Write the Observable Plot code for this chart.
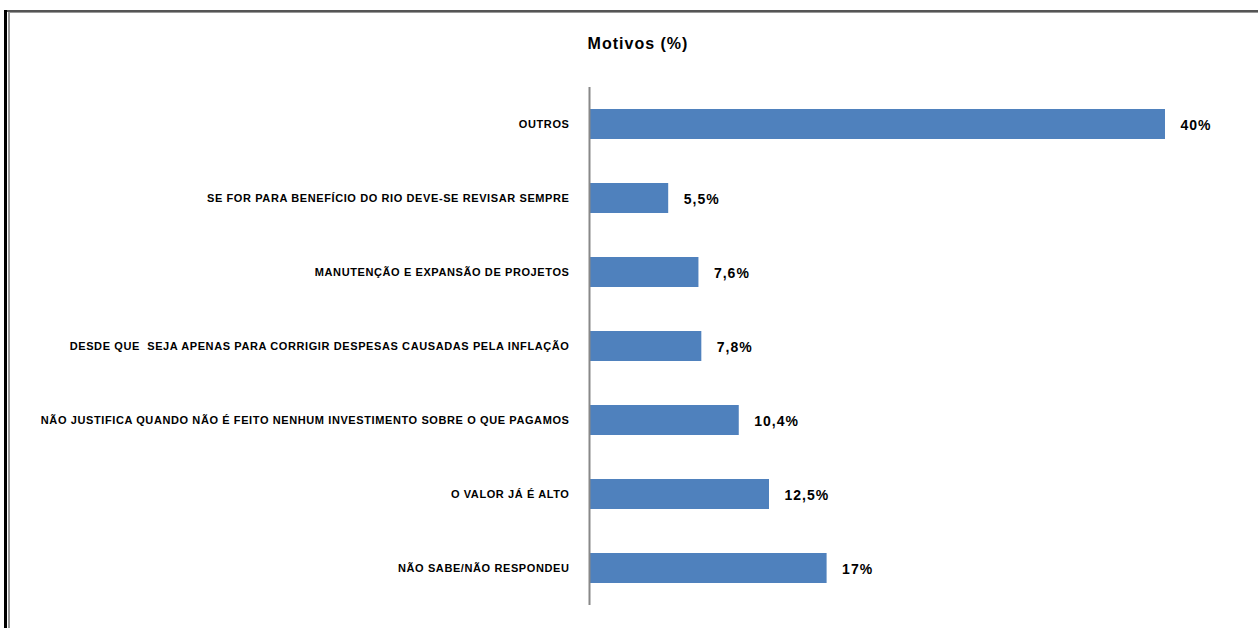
<!DOCTYPE html>
<html>
<head>
<meta charset="utf-8">
<script src="https://cdn.jsdelivr.net/npm/d3@7"></script>
<script src="https://cdn.jsdelivr.net/npm/@observablehq/plot@0.6"></script>
<style>
  html, body { margin: 0; padding: 0; background: #fff; }
  #wrap { position: relative; width: 1258px; height: 628px; overflow: hidden; font-family: "Liberation Sans", Arial, sans-serif; }
  #title { position: absolute; left: 0; width: 1276px; top: 35px; text-align: center; font-weight: bold; font-size: 16px; letter-spacing: 1px; color: #000; }
  .ln { position: absolute; }
  .ytick text { letter-spacing: 0.6px; }
  .vlab text { letter-spacing: 1px; }
</style>
</head>
<body>
<div id="wrap">
  <div class="ln" style="left:4px;top:10px;width:1254px;height:2px;background:#555;"></div>
  <div class="ln" style="left:8px;top:12px;width:1250px;height:1px;background:#999;"></div>
  <div class="ln" style="left:4px;top:10px;width:3px;height:618px;background:#000;"></div>
  <div class="ln" style="left:8px;top:12px;width:2px;height:616px;background:#999;"></div>
  <div id="title">Motivos (%)</div>
  <div id="chart"></div>
</div>
<script>
const categories = [
  "OUTROS",
  "SE FOR PARA BENEFÍCIO DO RIO DEVE-SE REVISAR SEMPRE",
  "MANUTENÇÃO E EXPANSÃO DE PROJETOS",
  "DESDE QUE  SEJA APENAS PARA CORRIGIR DESPESAS CAUSADAS PELA INFLAÇÃO",
  "NÃO JUSTIFICA QUANDO NÃO É FEITO NENHUM INVESTIMENTO SOBRE O QUE PAGAMOS",
  "O VALOR JÁ É ALTO",
  "NÃO SABE/NÃO RESPONDEU"
];
const values = [40, 5.5, 7.6, 7.8, 10.4, 12.5, 16.5];
const valueLabels = ["40%", "5,5%", "7,6%", "7,8%", "10,4%", "12,5%", "17%"];

const data = categories.map((c, i) => ({cat: c, v: values[i], lab: valueLabels[i]}));

const chart = Plot.plot({
  width: 1258,
  height: 628,
  marginLeft: 589,
  marginRight: 93,
  marginTop: 87,
  marginBottom: 23,
  style: {fontFamily: "'Liberation Sans', Arial, sans-serif", background: "transparent"},
  x: {domain: [0, 40], axis: null},
  y: {domain: categories, paddingInner: 0.6, paddingOuter: 0.3, label: null, tickSize: 0, tickPadding: 20},
  marks: [
    Plot.barX(data, {x: "v", y: "cat", fill: "#4F81BD"}),
    Plot.ruleX([0], {stroke: "#888", strokeWidth: 2}),
    Plot.text(data, {x: "v", y: "cat", text: "lab", textAnchor: "start", dx: 15, dy: 1, fontSize: 14, fontWeight: "bold", fill: "#000", className: "vlab"}),
    Plot.axisY({tickSize: 0, tickPadding: 20, fontSize: 11, fontWeight: "bold", label: null, color: "#000", className: "ytick"})
  ]
});
chart.style.position = "absolute";
chart.style.left = "0";
chart.style.top = "0";
document.getElementById("chart").appendChild(chart);
</script>
</body>
</html>
